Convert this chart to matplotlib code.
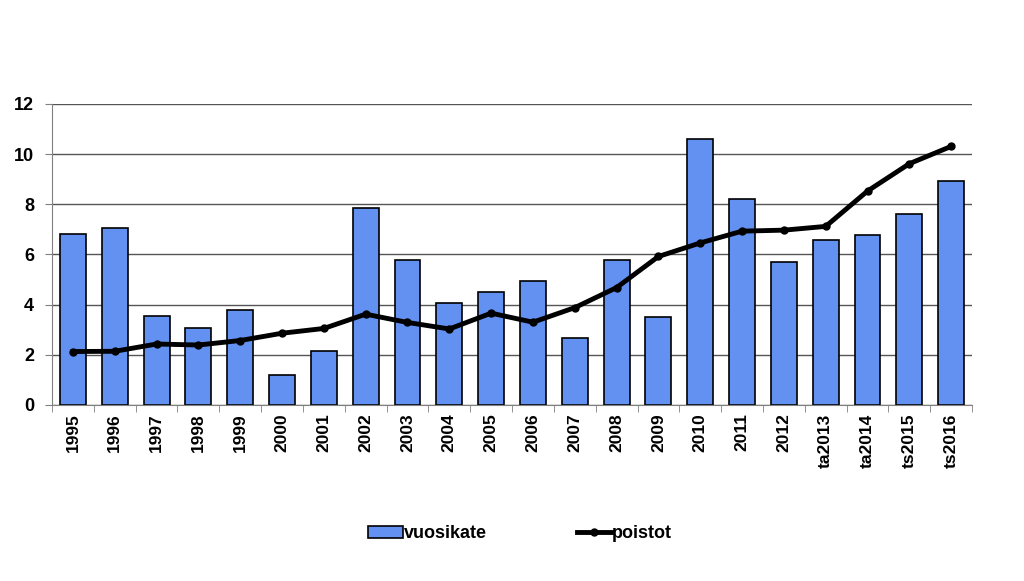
import numpy as np
import matplotlib
matplotlib.use('Agg')
import matplotlib.pyplot as plt

plt.rcParams['font.family'] = ['Liberation Sans', 'DejaVu Sans']

years = ['1995', '1996', '1997', '1998', '1999', '2000', '2001', '2002', '2003',
         '2004', '2005', '2006', '2007', '2008', '2009', '2010', '2011', '2012',
         'ta2013', 'ta2014', 'ts2015', 'ts2016']
vuosikate = [6.82, 7.05, 3.55, 3.05, 3.79, 1.18, 2.17, 7.87, 5.77,
             4.07, 4.52, 4.96, 2.65, 5.77, 3.50, 10.6, 8.21, 5.72,
             6.56, 6.78, 7.63, 8.94]
poistot = [2.13, 2.14, 2.43, 2.39, 2.57, 2.86, 3.05, 3.62, 3.29,
           3.03, 3.66, 3.30, 3.88, 4.68, 5.92, 6.46, 6.93, 6.97,
           7.12, 8.53, 9.62, 10.31]

x = np.arange(len(years))

fig = plt.figure(figsize=(10.24, 5.81), dpi=100)
ax = fig.add_axes([0.0508, 0.303, 0.8985, 0.518])

bars = ax.bar(x, vuosikate, width=0.62, color='#6391F2', edgecolor='black',
              linewidth=1.2, label='vuosikate', zorder=2)
line, = ax.plot(x, poistot, color='black', linewidth=3.5, marker='o', markersize=5,
                label='poistot', zorder=3)

ax.set_xlim(-0.5, len(years) - 0.5)
ax.set_ylim(0, 12)
ax.set_yticks(range(0, 13, 2))
ax.yaxis.grid(True, color='#555555', linewidth=1, zorder=0)
ax.set_axisbelow(True)

for s in ['top', 'right']:
    ax.spines[s].set_visible(False)
ax.spines['left'].set_color('#808080')
ax.spines['bottom'].set_color('#808080')

ax.set_xticks(x)
ax.set_xticklabels(years, rotation=90, fontsize=12.5, fontweight='bold')
ax.set_xticks(np.arange(-0.5, len(years)), minor=True)
ax.tick_params(axis='x', which='major', length=0, pad=6)
ax.tick_params(axis='x', which='minor', length=5, color='#808080')
ax.tick_params(axis='y', length=5, color='#808080', labelsize=13, pad=8)
for lbl in ax.get_yticklabels():
    lbl.set_fontweight('bold')

fig.legend([bars, line], ['vuosikate', 'poistot'], loc='center',
           bbox_to_anchor=(0.508, 0.081), ncol=2, frameon=False,
           prop={'weight': 'bold', 'size': 13}, columnspacing=5,
           handlelength=1.9, handleheight=0.6, handletextpad=0.05)

fig.savefig('out.png', dpi=100)
